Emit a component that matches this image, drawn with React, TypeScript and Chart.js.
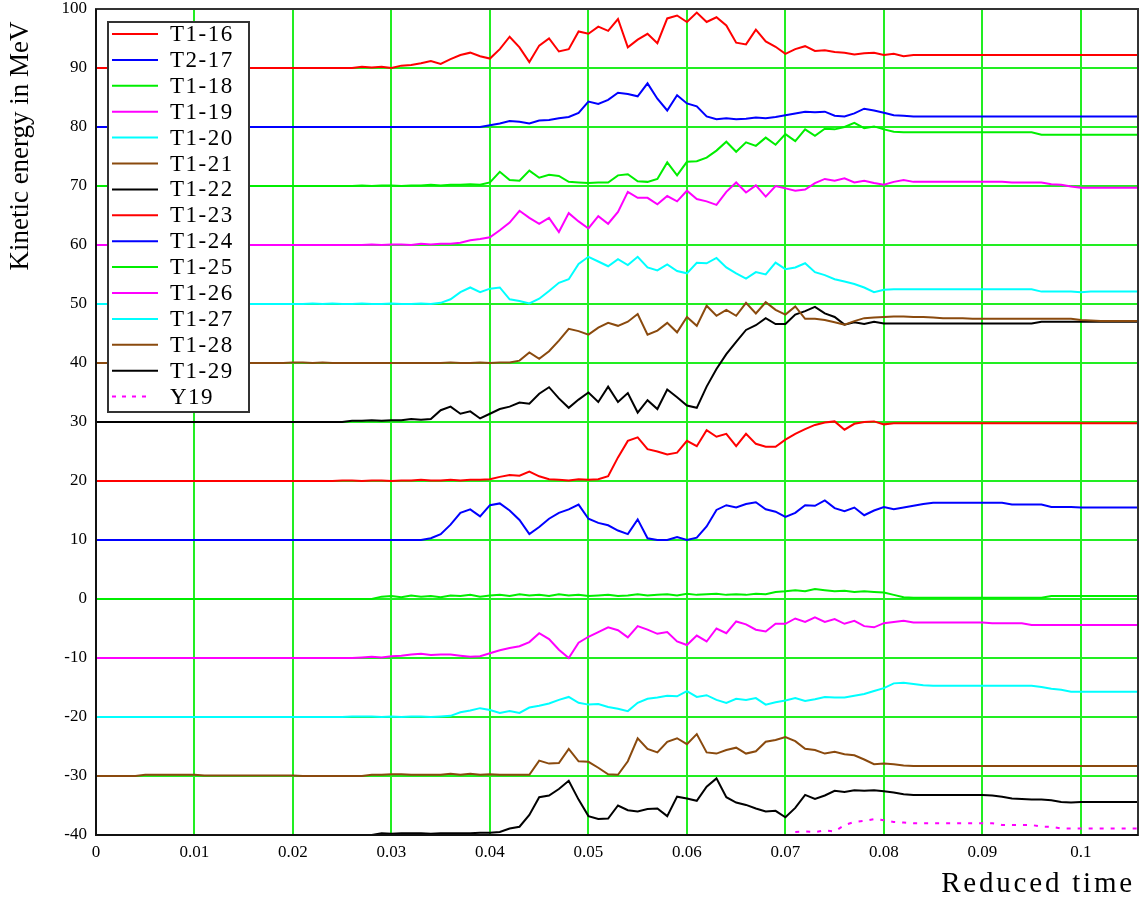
import React, { useEffect, useRef } from "react";
import { Chart, registerables } from "chart.js";

Chart.register(...registerables);

// Reduced time samples (shared by series T1-16 … T1-29)
const TIME = [
  0, 0.001, 0.002, 0.003, 0.004, 0.005, 0.006, 0.007, 0.008, 0.009,
  0.01, 0.011, 0.012, 0.013, 0.014, 0.015, 0.016, 0.017, 0.018, 0.019,
  0.02, 0.021, 0.022, 0.023, 0.024, 0.025, 0.026, 0.027, 0.028, 0.029,
  0.03, 0.031, 0.032, 0.033, 0.034, 0.035, 0.036, 0.037, 0.038, 0.039,
  0.04, 0.041, 0.042, 0.043, 0.044, 0.045, 0.046, 0.047, 0.048, 0.049,
  0.05, 0.051, 0.052, 0.053, 0.054, 0.055, 0.056, 0.057, 0.058, 0.059,
  0.06, 0.061, 0.062, 0.063, 0.064, 0.065, 0.066, 0.067, 0.068, 0.069,
  0.07, 0.071, 0.072, 0.073, 0.074, 0.075, 0.076, 0.077, 0.078, 0.079,
  0.08, 0.081, 0.082, 0.083, 0.084, 0.085, 0.086, 0.087, 0.088, 0.089,
  0.09, 0.091, 0.092, 0.093, 0.094, 0.095, 0.096, 0.097, 0.098, 0.099,
  0.1, 0.101, 0.102, 0.103, 0.104, 0.105, 0.106,
];

const T1_16 = [
  90, 90, 90, 90, 90, 90, 90, 90, 90, 90,
  90, 90, 90, 90, 90, 90, 90, 90, 90, 90,
  90, 90, 90, 90, 90, 90, 90, 90.2, 90.1, 90.2,
  90, 90.4, 90.5, 90.8, 91.2, 90.7, 91.5, 92.2, 92.6, 92.0,
  91.6, 93.2, 95.3, 93.5, 91.0, 93.8, 95.0, 92.8, 93.2, 96.2,
  95.8, 97.0, 96.3, 98.3, 93.5, 94.8, 95.8, 94.2, 98.4, 98.9,
  97.8, 99.4, 97.8, 98.6, 97.2, 94.3, 94.0, 96.5, 94.5, 93.6,
  92.4, 93.2, 93.7, 92.9, 93.0, 92.7, 92.6, 92.3, 92.5, 92.6,
  92.2, 92.4, 92.0, 92.2, 92.2, 92.2, 92.2, 92.2, 92.2, 92.2,
  92.2, 92.2, 92.2, 92.2, 92.2, 92.2, 92.2, 92.2, 92.2, 92.2,
  92.2, 92.2, 92.2, 92.2, 92.2, 92.2, 92.2,
];

const T2_17 = [
  80, 80, 80, 80, 80, 80, 80, 80, 80, 80,
  80, 80, 80, 80, 80, 80, 80, 80, 80, 80,
  80, 80, 80, 80, 80, 80, 80, 80, 80, 80,
  80, 80, 80, 80, 80, 80, 80, 80, 80, 80,
  80.3, 80.6, 81.0, 80.9, 80.6, 81.1, 81.2, 81.5, 81.7, 82.4,
  84.3, 83.9, 84.6, 85.8, 85.6, 85.2, 87.4, 84.8, 82.8, 85.4,
  84.0, 83.5, 81.8, 81.3, 81.5, 81.3, 81.4, 81.6, 81.5, 81.7,
  82.0, 82.3, 82.6, 82.5, 82.6, 81.9, 81.8, 82.3, 83.1, 82.8,
  82.4, 82.0, 81.9, 81.8, 81.8, 81.8, 81.8, 81.8, 81.8, 81.8,
  81.8, 81.8, 81.8, 81.8, 81.8, 81.8, 81.8, 81.8, 81.8, 81.8,
  81.8, 81.8, 81.8, 81.8, 81.8, 81.8, 81.8,
];

const T1_18 = [
  70, 70, 70, 70, 70, 70, 70, 70, 70, 70,
  70, 70, 70, 70, 70, 70, 70, 70, 70, 70,
  70, 70, 70, 70, 70, 70, 70, 70.1, 70, 70.1,
  70.1, 70, 70.1, 70.1, 70.2, 70.1, 70.2, 70.2, 70.3, 70.2,
  70.6, 72.4, 71.0, 70.9, 72.6, 71.4, 71.9, 71.7, 70.7, 70.6,
  70.5, 70.6, 70.6, 71.8, 72.0, 70.8, 70.7, 71.2, 74.0, 71.8,
  74.1, 74.2, 74.8, 76.0, 77.5, 75.8, 77.4, 76.8, 78.2, 77.0,
  78.8, 77.6, 79.6, 78.5, 79.7, 79.6, 80.0, 80.7, 79.8, 80.1,
  79.6, 79.2, 79.1, 79.1, 79.1, 79.1, 79.1, 79.1, 79.1, 79.1,
  79.1, 79.1, 79.1, 79.1, 79.1, 79.1, 78.7, 78.7, 78.7, 78.7,
  78.7, 78.7, 78.7, 78.7, 78.7, 78.7, 78.7,
];

const T1_19 = [
  60, 60, 60, 60, 60, 60, 60, 60, 60, 60,
  60, 60, 60, 60, 60, 60, 60, 60, 60, 60,
  60, 60, 60, 60, 60, 60, 60, 60, 60.1, 60,
  60.1, 60.1, 60, 60.2, 60.1, 60.2, 60.2, 60.4, 60.8, 61.0,
  61.3, 62.5, 63.8, 65.8, 64.6, 63.6, 64.6, 62.2, 65.4, 64.0,
  62.8, 64.9, 63.6, 65.6, 69.0, 68.0, 68.0, 66.9, 68.3, 67.4,
  69.2, 67.8, 67.4, 66.8, 69.0, 70.6, 68.9, 70.1, 68.2, 70.0,
  69.6, 69.2, 69.4, 70.5, 71.2, 70.9, 71.3, 70.6, 70.9, 70.5,
  70.2, 70.7, 71.0, 70.7, 70.7, 70.7, 70.7, 70.7, 70.7, 70.7,
  70.7, 70.7, 70.7, 70.6, 70.6, 70.6, 70.6, 70.3, 70.2, 69.9,
  69.7, 69.7, 69.7, 69.7, 69.7, 69.7, 69.7,
];

const T1_20 = [
  50, 50, 50, 50, 50, 50, 50, 50, 50, 50,
  50, 50, 50, 50, 50, 50, 50, 50, 50, 50,
  50, 50, 50.1, 50, 50.1, 50, 50, 50.1, 50, 50,
  50.1, 50, 50, 50.1, 50, 50.2, 50.8, 52.0, 52.8, 52.0,
  52.6, 52.8, 50.8, 50.5, 50.1, 50.9, 52.2, 53.6, 54.2, 56.8,
  58.0, 57.2, 56.4, 57.6, 56.6, 58.0, 56.2, 55.7, 56.7, 55.6,
  55.2, 57.0, 56.9, 57.8, 56.2, 55.2, 54.3, 55.4, 55.0, 57.0,
  55.9, 56.2, 56.9, 55.4, 54.9, 54.2, 53.8, 53.4, 52.8, 52.0,
  52.4, 52.5, 52.5, 52.5, 52.5, 52.5, 52.5, 52.5, 52.5, 52.5,
  52.5, 52.5, 52.5, 52.5, 52.5, 52.5, 52.1, 52.1, 52.1, 52.1,
  52.0, 52.1, 52.1, 52.1, 52.1, 52.1, 52.1,
];

const T1_21 = [
  40, 40, 40, 40, 40, 40, 40, 40, 40, 40,
  40, 40, 40, 40, 40, 40, 40, 40, 40, 40,
  40.1, 40.1, 40, 40.1, 40, 40, 40, 40, 40, 40,
  40, 40, 40, 40, 40, 40, 40.1, 40, 40, 40.1,
  40, 40.1, 40.1, 40.4, 41.8, 40.7, 42.0, 43.8, 45.8, 45.4,
  44.8, 46.0, 46.8, 46.3, 47.0, 48.3, 44.8, 45.5, 46.8, 45.2,
  47.8, 46.3, 49.7, 48.0, 49.0, 48.0, 50.2, 48.4, 50.3, 49.0,
  48.2, 49.6, 47.5, 47.5, 47.3, 46.9, 46.5, 47.1, 47.6, 47.7,
  47.8, 47.9, 47.9, 47.8, 47.8, 47.7, 47.6, 47.6, 47.6, 47.5,
  47.5, 47.5, 47.5, 47.5, 47.5, 47.5, 47.5, 47.5, 47.5, 47.5,
  47.3, 47.2, 47.1, 47.1, 47.1, 47.1, 47.1,
];

const T1_22 = [
  30, 30, 30, 30, 30, 30, 30, 30, 30, 30,
  30, 30, 30, 30, 30, 30, 30, 30, 30, 30,
  30, 30, 30, 30, 30, 30, 30.2, 30.2, 30.3, 30.2,
  30.3, 30.3, 30.5, 30.4, 30.5, 32.0, 32.6, 31.4, 31.8, 30.6,
  31.4, 32.2, 32.6, 33.3, 33.1, 34.8, 35.9, 34.0, 32.4, 33.8,
  35.0, 33.4, 36.0, 33.4, 34.9, 31.6, 33.7, 32.2, 35.5, 34.2,
  32.8, 32.4, 36.0, 39.0, 41.5, 43.6, 45.6, 46.4, 47.6, 46.6,
  46.6, 48.2, 48.8, 49.5, 48.4, 47.8, 46.5, 46.9, 46.6, 47.0,
  46.7, 46.7, 46.7, 46.7, 46.7, 46.7, 46.7, 46.7, 46.7, 46.7,
  46.7, 46.7, 46.7, 46.7, 46.7, 46.7, 47.0, 47.0, 47.0, 47.0,
  47.0, 47.0, 47.0, 47.0, 47.0, 47.0, 47.0,
];

const T1_23 = [
  20, 20, 20, 20, 20, 20, 20, 20, 20, 20,
  20, 20, 20, 20, 20, 20, 20, 20, 20, 20,
  20, 20, 20, 20, 20, 20.1, 20.1, 20, 20.1, 20.1,
  20, 20.1, 20.1, 20.2, 20.1, 20.1, 20.2, 20.1, 20.2, 20.2,
  20.3, 20.7, 21.0, 20.9, 21.6, 20.8, 20.3, 20.2, 20.1, 20.3,
  20.2, 20.3, 20.8, 24.0, 26.8, 27.4, 25.4, 25.0, 24.5, 24.8,
  26.8, 25.9, 28.6, 27.5, 28.0, 25.9, 28.0, 26.3, 25.8, 25.8,
  27.0, 28.0, 28.8, 29.5, 29.9, 30.1, 28.7, 29.7, 30.0, 30.1,
  29.6, 29.8, 29.8, 29.8, 29.8, 29.8, 29.8, 29.8, 29.8, 29.8,
  29.8, 29.8, 29.8, 29.8, 29.8, 29.8, 29.8, 29.8, 29.8, 29.8,
  29.8, 29.8, 29.8, 29.8, 29.8, 29.8, 29.8,
];

const T1_24 = [
  10, 10, 10, 10, 10, 10, 10, 10, 10, 10,
  10, 10, 10, 10, 10, 10, 10, 10, 10, 10,
  10, 10, 10, 10, 10, 10, 10, 10, 10, 10,
  10, 10, 10, 10, 10.3, 11.0, 12.6, 14.6, 15.2, 14.0,
  15.9, 16.2, 15.0, 13.4, 11.0, 12.2, 13.6, 14.6, 15.2, 16.0,
  13.6, 12.9, 12.5, 11.6, 11.0, 13.5, 10.3, 10.0, 10.0, 10.5,
  10.0, 10.4, 12.3, 15.1, 15.9, 15.5, 16.1, 16.4, 15.2, 14.8,
  13.9, 14.6, 15.9, 15.8, 16.7, 15.4, 14.9, 15.5, 14.2, 15.0,
  15.6, 15.2, 15.5, 15.8, 16.1, 16.3, 16.3, 16.3, 16.3, 16.3,
  16.3, 16.3, 16.3, 16.0, 16.0, 16.0, 16.0, 15.6, 15.6, 15.6,
  15.5, 15.5, 15.5, 15.5, 15.5, 15.5, 15.5,
];

const T1_25 = [
  0, 0, 0, 0, 0, 0, 0, 0, 0, 0,
  0, 0, 0, 0, 0, 0, 0, 0, 0, 0,
  0, 0, 0, 0, 0, 0, 0, 0, 0, 0.4,
  0.5, 0.3, 0.6, 0.4, 0.5, 0.3, 0.6, 0.5, 0.7, 0.4,
  0.6, 0.7, 0.5, 0.8, 0.6, 0.7, 0.5, 0.8, 0.6, 0.7,
  0.5, 0.6, 0.7, 0.5, 0.6, 0.8, 0.6, 0.7, 0.8, 0.6,
  0.9, 0.7, 0.8, 0.9, 0.7, 0.8, 0.7, 0.9, 0.8, 1.2,
  1.3, 1.5, 1.3, 1.7, 1.5, 1.3, 1.4, 1.2, 1.3, 1.2,
  1.1, 0.7, 0.3, 0.2, 0.2, 0.2, 0.2, 0.2, 0.2, 0.2,
  0.2, 0.2, 0.2, 0.2, 0.2, 0.2, 0.2, 0.5, 0.5, 0.5,
  0.5, 0.5, 0.5, 0.5, 0.5, 0.5, 0.5,
];

const T1_26 = [
  -10, -10, -10, -10, -10, -10, -10, -10, -10, -10,
  -10, -10, -10, -10, -10, -10, -10, -10, -10, -10,
  -10, -10, -10, -10, -10, -10, -10, -9.9, -9.8, -9.9,
  -9.7, -9.6, -9.4, -9.3, -9.5, -9.4, -9.4, -9.6, -9.8, -9.7,
  -9.2, -8.7, -8.3, -8.0, -7.3, -5.8, -6.8, -8.6, -10.0, -7.4,
  -6.4, -5.6, -4.8, -5.3, -6.5, -4.6, -5.2, -5.9, -5.6, -7.2,
  -7.8, -6.2, -7.2, -5.0, -5.8, -3.8, -4.3, -5.2, -5.5, -4.2,
  -4.2, -3.3, -3.9, -3.1, -3.9, -3.4, -4.2, -3.7, -4.6, -4.8,
  -4.1, -3.9, -3.7, -4.0, -4.0, -4.0, -4.0, -4.0, -4.0, -4.0,
  -4.0, -4.1, -4.1, -4.1, -4.1, -4.4, -4.4, -4.4, -4.4, -4.4,
  -4.4, -4.4, -4.4, -4.4, -4.4, -4.4, -4.4,
];

const T1_27 = [
  -20, -20, -20, -20, -20, -20, -20, -20, -20, -20,
  -20, -20, -20, -20, -20, -20, -20, -20, -20, -20,
  -20, -20, -20, -20, -20, -20, -19.9, -19.9, -19.9, -20,
  -19.9, -20, -19.9, -19.9, -20, -19.9, -19.8, -19.2, -18.9, -18.5,
  -18.8, -19.3, -19.0, -19.3, -18.4, -18.1, -17.7, -17.1, -16.6, -17.6,
  -17.9, -17.8, -18.3, -18.6, -19.0, -17.6, -16.9, -16.7, -16.4, -16.5,
  -15.6, -16.6, -16.3, -17.1, -17.6, -16.9, -17.1, -16.8, -17.9, -17.5,
  -17.2, -16.8, -17.3, -17.0, -16.6, -16.7, -16.7, -16.4, -16.1, -15.6,
  -15.1, -14.3, -14.2, -14.4, -14.6, -14.7, -14.7, -14.7, -14.7, -14.7,
  -14.7, -14.7, -14.7, -14.7, -14.7, -14.7, -14.9, -15.2, -15.4, -15.7,
  -15.7, -15.7, -15.7, -15.7, -15.7, -15.7, -15.7,
];

const T1_28 = [
  -30, -30, -30, -30, -30, -29.8, -29.8, -29.8, -29.8, -29.8,
  -29.8, -29.9, -29.9, -29.9, -29.9, -29.9, -29.9, -29.9, -29.9, -29.9,
  -29.9, -30, -30, -30, -30, -30, -30, -30, -29.8, -29.8,
  -29.7, -29.7, -29.8, -29.8, -29.8, -29.8, -29.6, -29.8, -29.6, -29.8,
  -29.7, -29.8, -29.8, -29.8, -29.8, -27.4, -27.9, -27.8, -25.4, -27.5,
  -27.6, -28.6, -29.7, -29.8, -27.5, -23.6, -25.4, -26.0, -24.2, -23.6,
  -24.6, -22.9, -26.0, -26.2, -25.6, -25.2, -26.2, -25.8, -24.2, -23.9,
  -23.4, -24.1, -25.4, -25.6, -26.2, -25.9, -26.3, -26.5, -27.2, -28.0,
  -27.9, -28.0, -28.2, -28.3, -28.3, -28.3, -28.3, -28.3, -28.3, -28.3,
  -28.3, -28.3, -28.3, -28.3, -28.3, -28.3, -28.3, -28.3, -28.3, -28.3,
  -28.3, -28.3, -28.3, -28.3, -28.3, -28.3, -28.3,
];

const T1_29 = [
  -40, -40, -40, -40, -40, -40, -40, -40, -40, -40,
  -40, -40, -40, -40, -40, -40, -40, -40, -40, -40,
  -40, -40, -40, -40, -40, -40, -40, -40, -40, -39.7,
  -39.8, -39.7, -39.7, -39.7, -39.8, -39.7, -39.7, -39.7, -39.7, -39.6,
  -39.6, -39.5, -38.9, -38.6, -36.6, -33.6, -33.3, -32.2, -30.8, -34.0,
  -36.8, -37.3, -37.2, -35.0, -35.8, -36.0, -35.6, -35.5, -36.8, -33.5,
  -33.8, -34.2, -31.8, -30.4, -33.6, -34.5, -34.9, -35.5, -36.0, -35.9,
  -37.0, -35.4, -33.2, -33.9, -33.3, -32.5, -32.7, -32.4, -32.5, -32.4,
  -32.6, -32.8, -33.1, -33.2, -33.2, -33.2, -33.2, -33.2, -33.2, -33.2,
  -33.2, -33.3, -33.5, -33.8, -33.9, -34.0, -34.0, -34.1, -34.4, -34.5,
  -34.4, -34.4, -34.4, -34.4, -34.4, -34.4, -34.4,
];

const Y19_TIME = [
  0.071, 0.072, 0.073, 0.074, 0.075, 0.076, 0.077, 0.078, 0.079,
  0.08, 0.081, 0.082, 0.083, 0.084, 0.085, 0.086, 0.087, 0.088, 0.089,
  0.09, 0.091, 0.092, 0.093, 0.094, 0.095, 0.096, 0.097, 0.098, 0.099,
  0.1, 0.101, 0.102, 0.103, 0.104, 0.105, 0.106,
];
const Y19 = [
  -39.5, -39.4, -39.5, -39.2, -39.4, -38.3, -37.8, -37.6, -37.3,
  -37.5, -37.8, -37.9, -38.0, -38.0, -38.0, -38.0, -38.0, -38.0, -38.0,
  -38.0, -38.0, -38.3, -38.3, -38.3, -38.3, -38.6, -38.6, -38.9, -38.9,
  -38.9, -38.9, -38.9, -38.9, -38.9, -38.9, -38.9,
];

const SERIES_LABELS = [
  "T1-16", "T2-17", "T1-18", "T1-19", "T1-20", "T1-21", "T1-22",
  "T1-23", "T1-24", "T1-25", "T1-26", "T1-27", "T1-28", "T1-29",
];
const SERIES = [
  T1_16, T2_17, T1_18, T1_19, T1_20, T1_21, T1_22,
  T1_23, T1_24, T1_25, T1_26, T1_27, T1_28, T1_29,
];
const Y19_LABEL = "Y19";

const X_MIN = 0;
const X_MAX = 0.1058;
const X_STEP = 0.01;
const Y_MIN = -40;
const Y_MAX = 100;
const Y_STEP = 10;
const Y_TITLE = "Kinetic energy in MeV";
const X_TITLE = "Reduced time";

// styles
const RED = "#ff0000";
const BLUE = "#0000ff";
const GREEN = "#00ee00";
const MAGENTA = "#ff00ff";
const CYAN = "#00ffff";
const BROWN = "#8a4a0e";
const BLACK = "#000000";
const SERIES_COLORS = [
  RED, BLUE, GREEN, MAGENTA, CYAN, BROWN, BLACK,
  RED, BLUE, GREEN, MAGENTA, CYAN, BROWN, BLACK,
];
const GRID = "#22ee22";
const FONT = "'Liberation Serif', 'Times New Roman', serif";

const overlay = {
  id: "overlay",
  afterDatasetsDraw(chart: any) {
    const { ctx, chartArea: a } = chart;
    ctx.save();
    // frame
    ctx.strokeStyle = "#333333";
    ctx.lineWidth = 2;
    ctx.strokeRect(a.left, a.top, a.right - a.left, a.bottom - a.top);
    ctx.strokeStyle = "#111111";
    ctx.beginPath();
    ctx.moveTo(a.left, a.top);
    ctx.lineTo(a.left, a.bottom);
    ctx.lineTo(a.right, a.bottom);
    ctx.stroke();

    // legend
    const bx = 108, by = 22, bw = 141, bh = 390;
    ctx.fillStyle = "#ffffff";
    ctx.fillRect(bx, by, bw, bh);
    ctx.strokeStyle = "#333333";
    ctx.lineWidth = 2;
    ctx.strokeRect(bx, by, bw, bh);
    const datasets = chart.data.datasets;
    ctx.font = `23px ${FONT}`;
    (ctx as any).letterSpacing = "1.5px";
    ctx.textBaseline = "middle";
    ctx.textAlign = "left";
    datasets.forEach((ds: any, i: number) => {
      const y = 34 + i * 25.9;
      const dashed = ds.borderDash && ds.borderDash.length;
      ctx.strokeStyle = ds.borderColor;
      ctx.lineWidth = 2;
      ctx.setLineDash(dashed ? [4, 6] : []);
      ctx.beginPath();
      ctx.moveTo(112, y);
      ctx.lineTo(dashed ? 150 : 158, y);
      ctx.stroke();
      ctx.setLineDash([]);
      ctx.fillStyle = "#000000";
      ctx.fillText(ds.label, 170, y + 1);
    });
    (ctx as any).letterSpacing = "0px";
    ctx.restore();
  },
  afterDraw(chart: any) {
    const { ctx } = chart;
    ctx.save();
    ctx.fillStyle = "#000000";
    // y title
    ctx.translate(21, 146);
    ctx.rotate(-Math.PI / 2);
    ctx.font = `27px ${FONT}`;
    ctx.textAlign = "center";
    ctx.textBaseline = "middle";
    ctx.fillText(Y_TITLE, 0, 0);
    ctx.restore();
    ctx.save();
    ctx.fillStyle = "#000000";
    ctx.font = `29px ${FONT}`;
    (ctx as any).letterSpacing = "2.8px";
    ctx.textAlign = "right";
    ctx.textBaseline = "middle";
    ctx.fillText(X_TITLE, 1135, 884);
    (ctx as any).letterSpacing = "0px";
    ctx.restore();
  },
};

export default function App() {
  const ref = useRef<HTMLCanvasElement>(null);
  useEffect(() => {
    const datasets: any[] = SERIES.map((vals, i) => ({
      label: SERIES_LABELS[i],
      data: TIME.map((t, j) => ({ x: t, y: vals[j] })),
      borderColor: SERIES_COLORS[i],
      backgroundColor: SERIES_COLORS[i],
      borderWidth: 2,
      pointRadius: 0,
      tension: 0,
      fill: false,
    }));
    datasets.push({
      label: Y19_LABEL,
      data: Y19_TIME.map((t, j) => ({ x: t, y: Y19[j] })),
      borderColor: MAGENTA,
      backgroundColor: MAGENTA,
      borderWidth: 2,
      borderDash: [4, 7],
      pointRadius: 0,
      tension: 0,
      fill: false,
    });
    const tickFont = { family: FONT, size: 17, lineHeight: 1 };
    const chart = new Chart(ref.current as HTMLCanvasElement, {
      type: "line",
      data: { datasets },
      options: {
        responsive: false,
        animation: false,
        devicePixelRatio: 1,
        layout: { padding: { top: 9, right: 2, left: 0, bottom: 0 } },
        plugins: { legend: { display: false }, tooltip: { enabled: false } },
        scales: {
          x: {
            type: "linear",
            min: X_MIN,
            max: X_MAX,
            afterFit: (s: any) => {
              s.height = 65;
              s.paddingLeft = 0;
              s.paddingRight = 0;
            },
            ticks: {
              stepSize: X_STEP,
              includeBounds: false,
              autoSkip: false,
              maxRotation: 0,
              color: "#000",
              font: tickFont,
              padding: 9,
              callback: (v: any) => String(Math.round(Number(v) * 100) / 100),
            },
            grid: { color: GRID, lineWidth: 2, drawTicks: false },
            border: { display: false },
          },
          y: {
            min: Y_MIN,
            max: Y_MAX,
            afterFit: (s: any) => {
              s.width = 96;
              s.paddingTop = 0;
              s.paddingBottom = 0;
            },
            ticks: {
              stepSize: Y_STEP,
              color: "#000",
              font: tickFont,
              padding: 9,
            },
            grid: { color: GRID, lineWidth: 2, drawTicks: false },
            border: { display: false },
          },
        },
      } as any,
      plugins: [overlay],
    });
    return () => chart.destroy();
  }, []);
  return (
    <div style={{ position: "fixed", left: 0, top: 0, width: 1140, height: 900, background: "#fff" }}>
      <canvas ref={ref} width={1140} height={900} style={{ display: "block" }} />
    </div>
  );
}
